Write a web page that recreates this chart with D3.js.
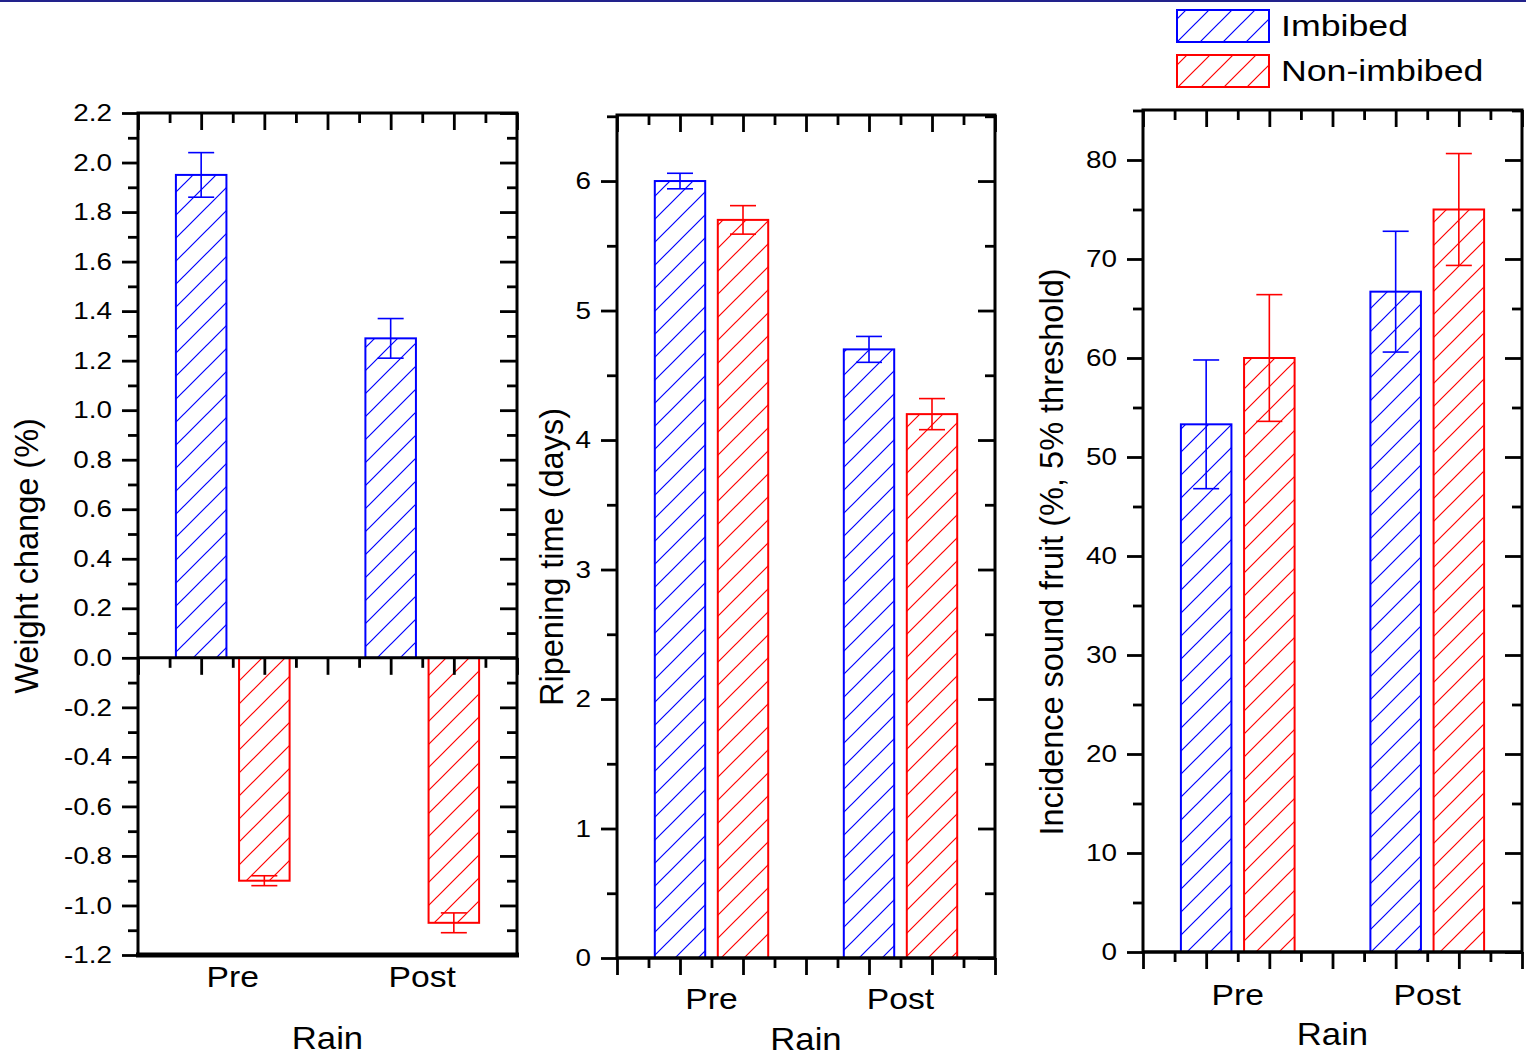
<!DOCTYPE html>
<html><head><meta charset="utf-8">
<script src="https://cdn.jsdelivr.net/npm/d3@7"></script>
<style>
body{margin:0;background:#fff;}
svg{display:block;font-family:"Liberation Sans",Arial,sans-serif;}
</style></head><body>
<svg id="chart" width="1526" height="1057"></svg>
<script>
// ---------- data ----------
const categories = ["Pre", "Post"];
const seriesNames = ["Imbibed", "Non-imbibed"];
const seriesColors = ["#0000ff", "#ff0000"];

const weightImbibed = [1.95, 1.29];
const weightImbibedErr = [0.09, 0.08];
const weightNonImbibed = [-0.90, -1.07];
const weightNonImbibedErr = [0.02, 0.04];

const ripeningImbibed = [6.0, 4.7];
const ripeningImbibedErr = [0.06, 0.10];
const ripeningNonImbibed = [5.70, 4.20];
const ripeningNonImbibedErr = [0.11, 0.12];

const soundImbibed = [53.3, 66.7];
const soundImbibedErr = [6.5, 6.1];
const soundNonImbibed = [60.0, 75.0];
const soundNonImbibedErr = [6.4, 5.65];

const weightTicks = [-1.2, -1.0, -0.8, -0.6, -0.4, -0.2, 0.0, 0.2, 0.4, 0.6, 0.8, 1.0, 1.2, 1.4, 1.6, 1.8, 2.0, 2.2];
const weightMinor = [-1.1, -0.9, -0.7, -0.5, -0.3, -0.1, 0.1, 0.3, 0.5, 0.7, 0.9, 1.1, 1.3, 1.5, 1.7, 1.9, 2.1];
const ripeningTicks = [0, 1, 2, 3, 4, 5, 6];
const ripeningMinor = [0.5, 1.5, 2.5, 3.5, 4.5, 5.5, 6.5];
const soundTicks = [0, 10, 20, 30, 40, 50, 60, 70, 80];
const soundMinor = [5, 15, 25, 35, 45, 55, 65, 75, 85];
const xMajor = [0, 1, 2, 3, 4, 5, 6];
const xMinor = [0.5, 1.5, 2.5, 3.5, 4.5, 5.5];

const xTitle = "Rain";
const yTitles = ["Weight change (%)", "Ripening time (days)", "Incidence sound fruit (%, 5% threshold)"];

// ---------- setup ----------
const svg = d3.select("#chart");
const SX = 1.16; // horizontal text stretch

svg.append("rect").attr("x", 0).attr("y", 0).attr("width", 1526).attr("height", 2).attr("fill", "#22228c");

const defs = svg.append("defs");
seriesColors.forEach((c, i) => {
  const p = defs.append("pattern").attr("id", "hatch" + i)
    .attr("patternUnits", "userSpaceOnUse").attr("width", 23).attr("height", 23);
  p.append("path").attr("d", "M0,23 L23,0 M-3,3 L3,-3 M20,26 L26,20")
    .attr("stroke", c).attr("stroke-width", 1.2).attr("fill", "none");
});

function stretchText(sel, sx) {
  sel.each(function () {
    const t = d3.select(this);
    const x = +t.attr("x") || 0;
    t.attr("x", x / sx).attr("transform", `scale(${sx},1)`);
  });
}

function drawPanel(cfg) {
  const g = svg.append("g");
  const x = d3.scaleLinear().domain([0, 6]).range([cfg.left, cfg.right]);
  const y = d3.scaleLinear().domain(cfg.yDomain).range([cfg.bottom, cfg.top]);

  const bars = [];
  categories.forEach((cat, ci) => {
    cfg.series.forEach((s, si) => {
      bars.push({ pos: ci * 3 + si + 1, v: s.values[ci], e: s.err[ci], color: seriesColors[si], si });
    });
  });
  const bw = x(0.8) - x(0);

  g.selectAll("rect.bar").data(bars).join("rect").attr("class", "bar")
    .attr("x", d => x(d.pos) - bw / 2)
    .attr("width", bw)
    .attr("y", d => y(Math.max(0, d.v)))
    .attr("height", d => Math.abs(y(d.v) - y(0)))
    .attr("fill", d => `url(#hatch${d.si})`)
    .attr("stroke", d => d.color).attr("stroke-width", 2);

  const eb = g.selectAll("g.err").data(bars).join("g").attr("class", "err")
    .attr("stroke", d => d.color).attr("stroke-width", 1.6);
  eb.append("line").attr("x1", d => x(d.pos)).attr("x2", d => x(d.pos))
    .attr("y1", d => y(d.v - d.e)).attr("y2", d => y(d.v + d.e));
  eb.append("line").attr("x1", d => x(d.pos) - 13).attr("x2", d => x(d.pos) + 13)
    .attr("y1", d => y(d.v + d.e)).attr("y2", d => y(d.v + d.e));
  eb.append("line").attr("x1", d => x(d.pos) - 13).attr("x2", d => x(d.pos) + 13)
    .attr("y1", d => y(d.v - d.e)).attr("y2", d => y(d.v - d.e));

  const styleAxis = a => {
    a.select(".domain").remove();
    a.selectAll(".tick line").attr("stroke", "#000").attr("stroke-width", 2.8);
  };
  // left
  const la = g.append("g").attr("transform", `translate(${cfg.left},0)`)
    .call(d3.axisLeft(y).tickValues(cfg.ticks).tickSize(16).tickPadding(10).tickFormat(cfg.fmt))
    .call(styleAxis);
  la.selectAll(".tick text").attr("font-size", 24).attr("fill", "#000")
    .attr("font-family", '"Liberation Sans",Arial,sans-serif');
  stretchText(la.selectAll(".tick text"), SX);
  g.append("g").attr("transform", `translate(${cfg.left},0)`)
    .call(d3.axisLeft(y).tickValues(cfg.minor.filter(v => v <= cfg.yDomain[1])).tickSize(10).tickFormat(""))
    .call(styleAxis);
  // right (inward)
  g.append("g").attr("transform", `translate(${cfg.right},0)`)
    .call(d3.axisLeft(y).tickValues(cfg.ticks).tickSize(17).tickFormat(""))
    .call(styleAxis);
  g.append("g").attr("transform", `translate(${cfg.right},0)`)
    .call(d3.axisLeft(y).tickValues(cfg.minor.filter(v => v <= cfg.yDomain[1])).tickSize(10).tickFormat(""))
    .call(styleAxis);
  // top (inward)
  g.append("g").attr("transform", `translate(0,${cfg.top})`)
    .call(d3.axisBottom(x).tickValues(xMajor).tickSize(17).tickFormat(""))
    .call(styleAxis);
  g.append("g").attr("transform", `translate(0,${cfg.top})`)
    .call(d3.axisBottom(x).tickValues(xMinor).tickSize(10).tickFormat(""))
    .call(styleAxis);
  // bottom x-axis (at zero)
  const xAxisY = y(0);
  g.append("g").attr("transform", `translate(0,${xAxisY})`)
    .call(d3.axisBottom(x).tickValues(xMajor).tickSize(17).tickFormat(""))
    .call(styleAxis);
  g.append("g").attr("transform", `translate(0,${xAxisY})`)
    .call(d3.axisBottom(x).tickValues(xMinor).tickSize(10).tickFormat(""))
    .call(styleAxis);

  // frame
  g.append("rect").attr("x", cfg.left).attr("y", cfg.top)
    .attr("width", cfg.right - cfg.left).attr("height", cfg.bottom - cfg.top)
    .attr("fill", "none").attr("stroke", "#000").attr("stroke-width", 3);
  g.append("line").attr("x1", cfg.left).attr("x2", cfg.right)
    .attr("y1", xAxisY).attr("y2", xAxisY).attr("stroke", "#000").attr("stroke-width", 3);
  if (cfg.thickBottom) {
    g.append("line").attr("x1", cfg.left - 2).attr("x2", cfg.right + 2)
      .attr("y1", cfg.bottom).attr("y2", cfg.bottom).attr("stroke", "#000").attr("stroke-width", 5);
  }

  // category labels
  categories.forEach((cat, ci) => {
    g.append("text").attr("x", x(ci * 3 + 1.5) / SX).attr("y", cfg.catY)
      .attr("transform", `scale(${SX},1)`)
      .attr("text-anchor", "middle").attr("font-size", 29).text(cat);
  });
  const RSX = 1.12;
  g.append("text").attr("x", ((cfg.left + cfg.right) / 2) / RSX).attr("y", cfg.titleY)
    .attr("transform", `scale(${RSX},1)`)
    .attr("text-anchor", "middle").attr("font-size", 31).text(xTitle);

  g.append("text")
    .attr("transform", `translate(${cfg.yTitleX},${cfg.yTitleCY}) rotate(-90) scale(1,1.05)`)
    .attr("text-anchor", "middle").attr("dominant-baseline", "central")
    .attr("font-size", 32.5).text(cfg.yTitle);
}

drawPanel({
  left: 138, right: 517, top: 113, bottom: 955, yDomain: [-1.2, 2.2],
  ticks: weightTicks, minor: weightMinor, fmt: v => v.toFixed(1),
  series: [{ values: weightImbibed, err: weightImbibedErr }, { values: weightNonImbibed, err: weightNonImbibedErr }],
  thickBottom: true, catY: 987, titleY: 1049, yTitle: yTitles[0], yTitleX: 26, yTitleCY: 556
});
drawPanel({
  left: 617, right: 995, top: 115, bottom: 958, yDomain: [0, 6.51],
  ticks: ripeningTicks, minor: ripeningMinor, fmt: v => String(v),
  series: [{ values: ripeningImbibed, err: ripeningImbibedErr }, { values: ripeningNonImbibed, err: ripeningNonImbibedErr }],
  thickBottom: false, catY: 1009, titleY: 1050, yTitle: yTitles[1], yTitleX: 551, yTitleCY: 557
});
drawPanel({
  left: 1143, right: 1522, top: 110, bottom: 952, yDomain: [0, 85.05],
  ticks: soundTicks, minor: soundMinor, fmt: v => String(v),
  series: [{ values: soundImbibed, err: soundImbibedErr }, { values: soundNonImbibed, err: soundNonImbibedErr }],
  thickBottom: false, catY: 1005, titleY: 1045, yTitle: yTitles[2], yTitleX: 1051, yTitleCY: 552
});

// legend
const LSX = 1.19;
const leg = svg.append("g");
seriesNames.forEach((name, i) => {
  const yy = 10 + i * 45;
  leg.append("rect").attr("x", 1177).attr("y", yy).attr("width", 92).attr("height", 32)
    .attr("fill", `url(#hatch${i})`).attr("stroke", seriesColors[i]).attr("stroke-width", 2);
  leg.append("text").attr("x", 1281 / LSX).attr("y", yy + 16)
    .attr("transform", `scale(${LSX},1)`)
    .attr("dominant-baseline", "central").attr("font-size", 30).text(name);
});
</script>
</body></html>
